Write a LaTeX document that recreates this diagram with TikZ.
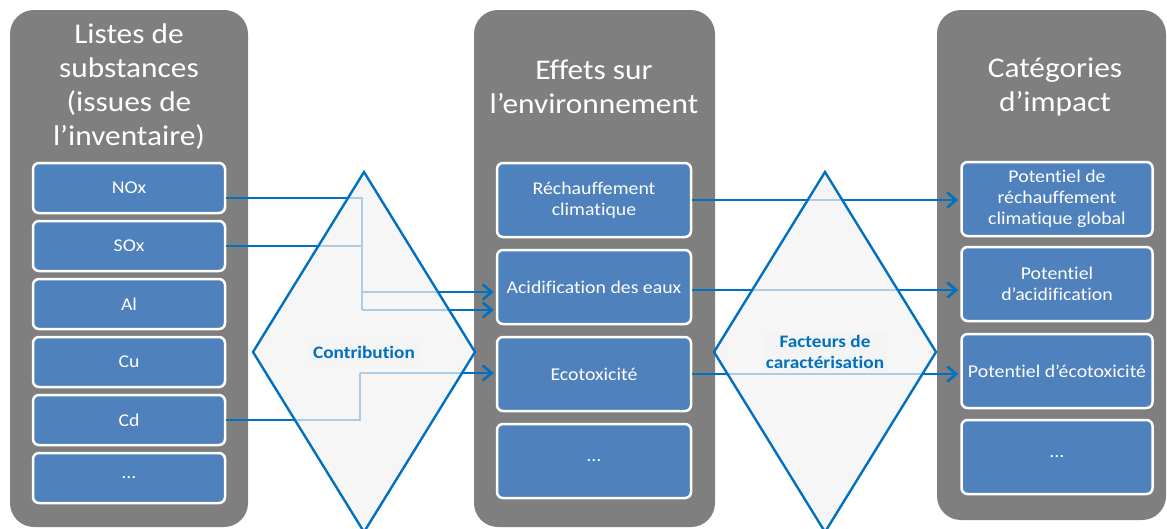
\documentclass[tikz,border=0pt]{standalone}
\usepackage{fontspec}
\setmainfont{Carlito}[FakeStretch=1.1,Ligatures=NoCommon]
\usetikzlibrary{arrows.meta}
\definecolor{cgray}{HTML}{7F7F7F}
\definecolor{cbox}{HTML}{4F81BD}
\definecolor{clink}{HTML}{0070C0}
\definecolor{cdiam}{HTML}{F2F2F2}
\tikzset{
  colbox/.style={fill=cgray,rounded corners=24pt},
  coltitle/.style={text=white,align=center,font=\fontsize{28.5}{34}\selectfont},
  itembox/.style={fill=cbox,draw=white,line width=2.5pt,rounded corners=6pt,text=white,
    align=center,inner sep=0pt,font=\fontsize{18}{21}\selectfont},
  subst/.style={itembox,minimum width=192pt,minimum height=50pt},
  effet/.style={itembox,minimum width=194pt,minimum height=74pt},
  categ/.style={itembox,minimum width=191pt,minimum height=74pt},
  link/.style={draw=clink,line width=2.6pt},
  arr/.style={link,-{Straight Barb[length=9pt,width=15pt]},shorten >=2pt},
  diam/.style={fill=cdiam,fill opacity=0.72,draw=clink,line width=2.4pt,line join=miter},
  dlabel/.style={text=clink,align=center,font=\bfseries\fontsize{17.5}{21}\selectfont,
    fill=cdiam,fill opacity=0.5,text opacity=1}
}

\begin{document}
\begin{tikzpicture}[x=1pt,y=-1pt]
  \useasboundingbox (0,0) rectangle (1167,528);
  \clip (0,0) rectangle (1167,528);
  % columns
  \fill[colbox] (10,10) rectangle (248,527);
  \fill[colbox] (474,10) rectangle (715,527);
  \fill[colbox] (937,10) rectangle (1166,520);
  \node[coltitle] (tsub) at (129,87) {Listes de\\substances\\(issues de\\l’inventaire)};
  \node[coltitle] (teff) at (594,87) {Effets sur\\l’environnement};
  \node[coltitle] (tcat) at (1055,87) {Catégories\\d’impact};
  % substances
  \foreach \nm/\txt [count=\i from 0] in {nox/NOx,sox/SOx,al/Al,cu/Cu,cd/Cd,lsub/\ldots}
    \node[subst] (\nm) at (129,{188+58*\i}) {\txt};
  % effects
  \foreach \nm/\txt [count=\i from 0] in {rech/{Réchauffement\\climatique},acid/Acidification des eaux,ecot/Ecotoxicité,leff/\ldots}
    \node[effet] (\nm) at (594,{200+87*\i}) {\txt};
  % impact categories
  \node[categ] (pgw) at (1057,199) {Potentiel de\\réchauffement\\climatique global};
  \node[categ] (pac) at (1057,284) {Potentiel\\d’acidification};
  \node[categ] (pec) at (1057,371) {Potentiel d’écotoxicité};
  \node[categ] (lcat) at (1057,457) {\ldots};
  % connectors
  \coordinate (j1) at (362,292);
  \coordinate (j2) at (362,310);
  \coordinate (j3) at (360,373);
  \draw[link] ([yshift=-10pt]nox.east) -| (j1);
  \draw[link] (sox.east) -| (j2);
  \draw[link] (cd.east) -| (j3);
  \draw[arr] (j1) -- (j1 -| acid.west);
  \draw[arr] (j2) -- (j2 -| acid.west);
  \draw[arr] (j3) -- (j3 -| ecot.west);
  \draw[arr] (rech.east) -- (rech.east -| pgw.west);
  \draw[arr] ([yshift=-3pt]acid.east) -- ([yshift=-3pt]acid.east -| pac.west);
  \draw[arr] (ecot.east) -- (ecot.east -| pec.west);
  % diamonds
  \draw[diam] (364,172) -- (475,352) -- (364,532) -- (253,352) -- cycle;
  \draw[diam] (825,172) -- (936,352) -- (825,532) -- (714,352) -- cycle;
  \node[dlabel] (contrib) at (364,352) {Contribution};
  \node[dlabel] (fcar) at (825,352) {Facteurs de\\caractérisation};
\end{tikzpicture}
\end{document}
